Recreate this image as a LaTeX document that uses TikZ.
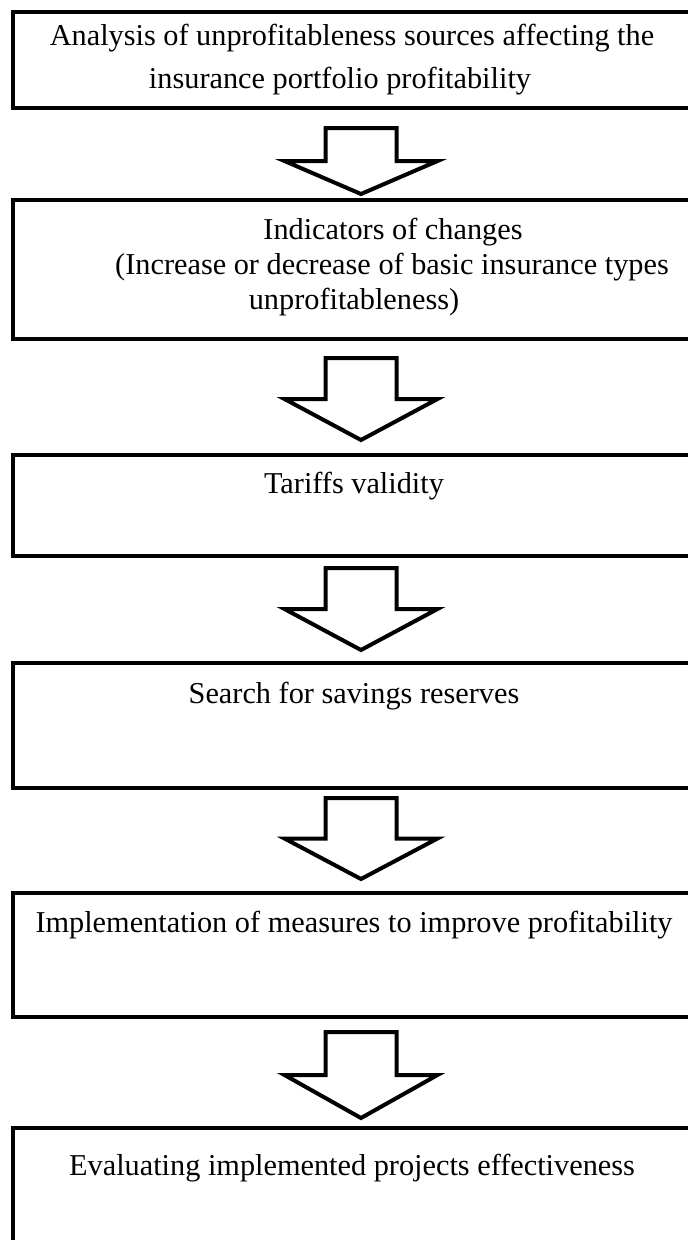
\documentclass[tikz,border=0pt]{standalone}
\usepackage{fontspec}
\setmainfont{Liberation Serif}
\usetikzlibrary{calc}

\tikzset{
  box/.style={draw, line width=4pt, minimum width=682pt, outer sep=0pt, inner sep=0pt, anchor=north west},
  txt/.style={anchor=base, inner sep=0pt, font=\fontsize{30.3}{36}\selectfont},
  blk/.style={draw, line width=4pt, fill=white}
}
\newcommand{\blkarrow}[4]{%
  \draw[blk] let \p1=($(#1.south)+(7,#3)$), \p2=($(#2.north)+(7,-#4)$), \n1={(\y1+\y2)/2} in
    (\x1-35.5pt,\y1) -- (\x1+35.5pt,\y1) -- (\x1+35.5pt,\n1) -- (\x1+76.5pt,\n1)
    -- (\x2,\y2) -- (\x1-76.5pt,\n1) -- (\x1-35.5pt,\n1) -- cycle;}

\begin{document}
\begin{tikzpicture}[x=1pt, y=-1pt]
\useasboundingbox (0,0) rectangle (688,1240);
\fill[white] (0,0) rectangle (688,1240);

\node[box, minimum height=96pt] (b1) at (13,12) {};
\node[box, minimum height=139pt] (b2) at (13,200) {};
\node[box, minimum height=101pt] (b3) at (13,455) {};
\node[box, minimum height=125pt] (b4) at (13,663) {};
\node[box, minimum height=124pt] (b5) at (13,893) {};
\node[box, minimum height=140pt] (b6) at (13,1128) {};

\node[txt] (t1a) at (352,45) {Analysis of unprofitableness sources affecting the};
\node[txt] (t1b) at (340,88) {insurance portfolio profitability};
\node[txt] (t2a) at (393,239) {Indicators of changes};
\node[txt] (t2b) at (392,274) {(Increase or decrease of basic insurance types};
\node[txt] (t2c) at (354,309) {unprofitableness)};
\node[txt] (t3) at (354,493) {Tariffs validity};
\node[txt] (t4) at (354,703) {Search for savings reserves};
\node[txt] (t5) at (354,932) {Implementation of measures to improve profitability};
\node[txt] (t6) at (352,1175) {Evaluating implemented projects effectiveness};

\blkarrow{b1}{b2}{20}{6}
\blkarrow{b2}{b3}{19}{15}
\blkarrow{b3}{b4}{12}{13}
\blkarrow{b4}{b5}{10}{14}
\blkarrow{b5}{b6}{15}{10}
\end{tikzpicture}
\end{document}
